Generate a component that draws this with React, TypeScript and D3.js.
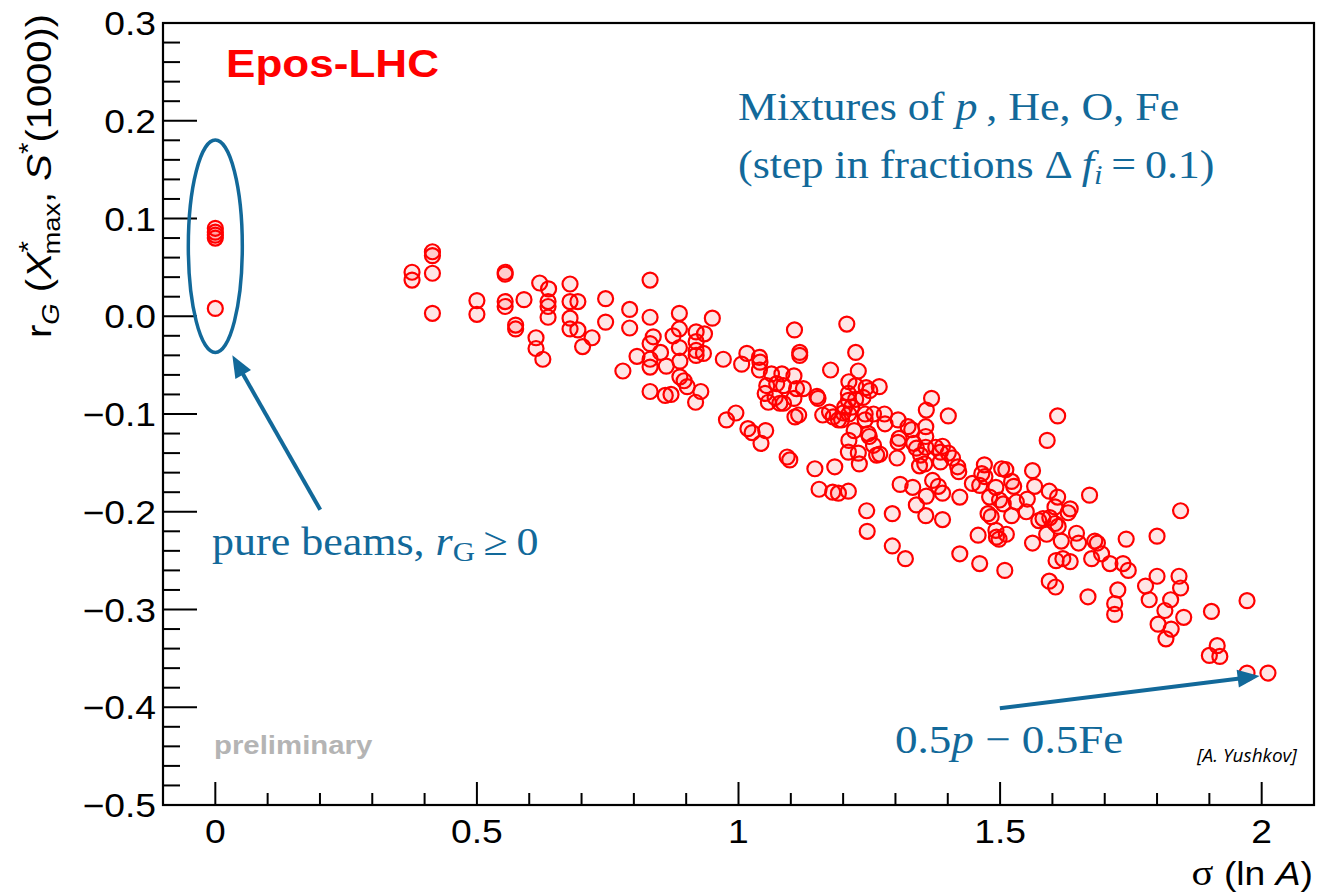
import React from 'react';
import * as d3 from 'd3';

// pure beams (p, He, O, Fe) sit at sigma(lnA) = 0
const pureBeams: [number, number][] = [
  [0, 0.090], [0, 0.086], [0, 0.083], [0, 0.080], [0, 0.008],
];

// mixtures of p, He, O, Fe: [sigma(lnA), r_G]
const mixtures: [number, number][] = [
  [0.415, 0.066], [0.415, 0.062], [0.376, 0.045], [0.376, 0.037], [0.415, 0.044], [0.415, 0.003],
  [0.554, 0.045], [0.554, 0.043], [0.500, 0.016], [0.500, 0.002], [0.554, 0.015], [0.554, 0.010],
  [0.590, 0.017], [0.574, -0.009], [0.574, -0.013], [0.620, 0.034], [0.637, 0.028], [0.636, 0.015],
  [0.636, 0.010], [0.636, -0.001], [0.613, -0.022], [0.613, -0.033], [0.626, -0.044], [0.678, 0.033],
  [0.678, 0.015], [0.693, 0.015], [0.678, -0.002], [0.678, -0.013], [0.693, -0.014], [0.720, -0.022],
  [0.702, -0.031],
  [0.831, 0.037], [0.746, 0.018], [0.792, 0.007], [0.746, -0.006], [0.792, -0.012], [0.831, -0.001],
  [0.887, 0.003], [0.950, -0.002], [0.837, -0.021], [0.831, -0.028], [0.875, -0.020], [0.887, -0.013],
  [0.919, -0.016], [0.935, -0.018], [0.919, -0.026], [0.887, -0.032], [0.851, -0.037], [0.806, -0.041],
  [0.919, -0.035], [0.933, -0.038], [0.919, -0.040], [0.831, -0.044], [0.888, -0.046], [0.831, -0.052],
  [0.862, -0.051], [0.779, -0.056], [0.971, -0.044], [1.016, -0.038], [1.006, -0.049], [1.040, -0.042],
  [1.041, -0.047], [1.040, -0.055], [0.888, -0.062], [0.896, -0.066], [0.902, -0.072], [0.831, -0.077],
  [0.860, -0.081], [0.871, -0.080], [0.928, -0.077], [0.918, -0.088], [0.995, -0.099], [0.977, -0.106],
  [1.107, -0.014],
  [1.063, -0.059], [1.054, -0.071], [1.073, -0.069], [1.051, -0.079], [1.070, -0.083], [1.057, -0.088],
  [1.079, -0.089],
  [1.207, -0.008], [1.117, -0.037], [1.117, -0.040], [1.224, -0.037], [1.176, -0.055], [1.229, -0.056],
  [1.083, -0.059], [1.106, -0.061], [1.086, -0.071], [1.111, -0.074], [1.124, -0.074], [1.106, -0.084],
  [1.086, -0.089], [1.108, -0.103], [1.115, -0.101], [1.150, -0.082], [1.152, -0.084], [1.211, -0.067],
  [1.224, -0.071], [1.244, -0.073], [1.251, -0.076], [1.269, -0.072], [1.210, -0.079], [1.210, -0.086],
  [1.224, -0.085], [1.238, -0.083], [1.203, -0.093], [1.216, -0.093], [1.200, -0.099], [1.211, -0.100],
  [1.174, -0.098], [1.161, -0.101], [1.181, -0.103], [1.191, -0.106], [1.197, -0.106], [1.242, -0.100],
  [1.258, -0.100], [1.279, -0.100], [1.280, -0.110], [1.242, -0.106], [1.221, -0.117], [1.211, -0.127],
  [1.248, -0.120], [1.250, -0.123], [1.258, -0.132], [1.210, -0.139], [1.229, -0.140], [1.264, -0.142],
  [1.270, -0.141], [1.231, -0.151], [1.305, -0.106], [1.324, -0.113], [1.331, -0.116], [1.307, -0.125],
  [1.305, -0.129], [1.335, -0.130], [1.340, -0.135], [1.303, -0.145], [1.348, -0.142], [1.356, -0.151],
  [1.369, -0.084], [1.359, -0.096], [1.401, -0.102], [1.358, -0.113], [1.358, -0.123], [1.358, -0.134],
  [1.377, -0.134], [1.390, -0.133], [1.386, -0.139], [1.401, -0.140], [1.409, -0.145], [1.346, -0.153],
  [1.093, -0.144], [1.098, -0.147], [1.146, -0.156], [1.184, -0.154],
  [1.018, -0.115], [1.026, -0.119], [1.043, -0.130], [1.052, -0.117],
  [1.154, -0.177], [1.180, -0.180], [1.191, -0.181], [1.210, -0.179], [1.245, -0.199], [1.246, -0.220],
  [1.294, -0.202], [1.294, -0.235], [1.319, -0.248], [1.309, -0.172], [1.333, -0.175], [1.340, -0.193],
  [1.358, -0.204], [1.390, -0.208], [1.359, -0.184], [1.371, -0.168], [1.382, -0.174], [1.390, -0.181],
  [1.386, -0.149], [1.423, -0.185], [1.423, -0.243],
  [1.610, -0.102], [1.590, -0.127], [1.671, -0.183], [1.419, -0.154], [1.421, -0.159], [1.470, -0.152],
  [1.465, -0.161], [1.471, -0.164], [1.447, -0.171], [1.461, -0.173], [1.503, -0.156], [1.511, -0.157],
  [1.522, -0.169], [1.526, -0.174], [1.492, -0.175], [1.562, -0.158], [1.566, -0.174], [1.480, -0.185],
  [1.499, -0.188], [1.506, -0.192], [1.531, -0.190], [1.552, -0.187], [1.550, -0.200], [1.522, -0.204],
  [1.477, -0.202], [1.483, -0.205], [1.594, -0.179], [1.610, -0.185], [1.605, -0.195], [1.634, -0.197],
  [1.630, -0.201], [1.574, -0.209], [1.582, -0.207], [1.595, -0.206], [1.605, -0.212], [1.611, -0.215],
  [1.589, -0.223], [1.458, -0.224], [1.492, -0.219], [1.493, -0.226], [1.498, -0.228], [1.512, -0.223],
  [1.562, -0.232], [1.617, -0.230], [1.646, -0.222], [1.650, -0.232], [1.681, -0.230], [1.686, -0.232],
  [1.694, -0.243], [1.675, -0.248], [1.741, -0.228], [1.461, -0.253], [1.509, -0.260], [1.607, -0.250],
  [1.620, -0.248], [1.634, -0.251], [1.710, -0.253], [1.735, -0.253], [1.668, -0.287],
  [1.594, -0.271], [1.606, -0.277],
  [1.845, -0.199], [1.800, -0.225], [1.745, -0.260], [1.800, -0.266], [1.842, -0.266],
  [1.725, -0.280], [1.778, -0.276], [1.845, -0.278], [1.719, -0.294], [1.719, -0.305], [1.785, -0.290],
  [1.826, -0.290], [1.815, -0.301], [1.851, -0.308], [1.802, -0.315], [1.827, -0.320], [1.817, -0.330],
  [1.904, -0.302], [1.972, -0.291], [1.915, -0.337], [1.900, -0.347], [1.920, -0.348], [1.972, -0.365],
  [2.012, -0.365],
];

const xTickValues = [0, 0.5, 1, 1.5, 2];
const xTickLabels = ['0', '0.5', '1', '1.5', '2'];
const yTickValues = [-0.5, -0.4, -0.3, -0.2, -0.1, 0, 0.1, 0.2, 0.3];
const yTickLabels = ['\u22120.5', '\u22120.4', '\u22120.3', '\u22120.2', '\u22120.1', '0.0', '0.1', '0.2', '0.3'];

const sans = 'Liberation Sans, Arial, Helvetica, sans-serif';
const serif = 'Liberation Serif, Times New Roman, serif';
const blue = '#12699a';
const SX = 1.13; // glyphs in the source are a bit wide
const thin = '\u2009';

function Arrow({ x1, y1, x2, y2 }: { x1: number; y1: number; x2: number; y2: number }) {
  const dx = x2 - x1, dy = y2 - y1;
  const len = Math.sqrt(dx * dx + dy * dy);
  const ux = dx / len, uy = dy / len;
  const hl = 22, hw = 9;
  const bx = x2 - ux * hl, by = y2 - uy * hl;
  const head = `M${x2},${y2}L${bx - uy * hw},${by + ux * hw}L${bx + uy * hw},${by - ux * hw}Z`;
  return (
    <g>
      <line x1={x1} y1={y1} x2={bx + ux * 2} y2={by + uy * 2} stroke={blue} strokeWidth={4} />
      <path d={head} fill={blue} />
    </g>
  );
}

export default function App() {
  const x = d3.scaleLinear().domain([-0.1, 2.1]).range([163, 1314]);
  const y = d3.scaleLinear().domain([-0.5, 0.3]).range([805, 23]);
  const [x0, x1] = x.range();
  const [y0, y1] = y.range();

  const xMinor = d3.range(-0.1, 2.1001, 0.1).filter(v => Math.abs(v / 0.5 - Math.round(v / 0.5)) > 1e-6);
  const yMinor = d3.range(-0.5, 0.3001, 0.02).filter(v => Math.abs(v / 0.1 - Math.round(v / 0.1)) > 1e-6);

  const points = [...pureBeams, ...mixtures];

  return (
    <svg width={1318} height={892} style={{ position: 'absolute', left: 0, top: 0, background: '#fff' }}>
      <rect width={1318} height={892} fill="#fff" />

      {/* ticks */}
      <g stroke="#000" strokeWidth={2}>
        {yTickValues.map(v => <line key={'ym' + v} x1={x0} x2={x0 + 34} y1={y(v)} y2={y(v)} />)}
        {yMinor.map(v => <line key={'yn' + v} x1={x0} x2={x0 + 17} y1={y(v)} y2={y(v)} />)}
        {xTickValues.map(v => <line key={'xm' + v} x1={x(v)} x2={x(v)} y1={y0} y2={y0 - 23} />)}
        {xMinor.map(v => <line key={'xn' + v} x1={x(v)} x2={x(v)} y1={y0} y2={y0 - 12} />)}
      </g>

      {/* points */}
      <g>
        {points.map((d, i) => (
          <circle key={i} cx={x(d[0])} cy={y(d[1])} r={7.5}
            fill="#ff0000" fillOpacity={0.1} stroke="#ff0000" strokeWidth={2.2} />
        ))}
      </g>

      {/* frame */}
      <rect x={x0} y={y1} width={x1 - x0} height={y0 - y1} fill="none" stroke="#000" strokeWidth={2.2} />

      {/* tick labels */}
      <g fontFamily={sans} fontSize={33} fill="#000">
        {yTickValues.map((v, i) => (
          <text key={'yl' + v} transform={`translate(156,${y(v) + 12}) scale(${SX},1)`} textAnchor="end">{yTickLabels[i]}</text>
        ))}
        {xTickValues.map((v, i) => (
          <text key={'xl' + v} transform={`translate(${x(v)},${843}) scale(${SX},1)`} textAnchor="middle">{xTickLabels[i]}</text>
        ))}
      </g>

      {/* axis titles */}
      <text transform={`translate(1313,885) scale(${SX},1)`} textAnchor="end" fontFamily={sans} fontSize={33}>
        <tspan fontFamily={serif} fontSize={36}>σ</tspan>
        <tspan>{' (ln '}</tspan>
        <tspan fontStyle="italic">A</tspan>
        <tspan>)</tspan>
      </text>
      <text transform="translate(51,14) rotate(-90) scale(1.14,1)" textAnchor="end" fontFamily={sans} fontSize={35}>
        <tspan>r</tspan>
        <tspan fontSize={24} fontStyle="italic" dy={8}>G</tspan>
        <tspan dy={-8}>{' ('}</tspan>
        <tspan fontStyle="italic">X</tspan>
        <tspan fontSize={26} dy={-14}>*</tspan>
        <tspan fontSize={24} dx={-12} dy={23}>max</tspan>
        <tspan dy={-9}>{', '}</tspan>
        <tspan fontStyle="italic">S</tspan>
        <tspan fontSize={26} dy={-14}>*</tspan>
        <tspan dy={14}>(1000))</tspan>
      </text>

      {/* labels */}
      <text transform={`translate(226,77) scale(${SX},1)`} fontFamily={sans} fontSize={39} fontWeight="bold" fill="#ff0000">Epos-LHC</text>
      <text transform={`translate(214,754) scale(${SX},1)`} fontFamily={sans} fontSize={26} fontWeight="bold" fill="#b4b4b4">preliminary</text>

      <g fontFamily={serif} fill={blue}>
        <text transform="translate(738,120) scale(1.1,1)" fontSize={40}>
          <tspan>{'Mixtures of '}</tspan>
          <tspan fontStyle="italic">p</tspan>
          <tspan>{thin + ', He, O, Fe'}</tspan>
        </text>
        <text transform="translate(738,178) scale(1.1,1)" fontSize={40}>
          <tspan>{'(step in fractions Δ' + thin}</tspan>
          <tspan fontStyle="italic">f</tspan>
          <tspan fontStyle="italic" fontSize={28} dy={6}>i</tspan>
          <tspan dy={-6}>{thin + '=' + thin + '0.1)'}</tspan>
        </text>
        <text transform="translate(212,555) scale(1.1,1)" fontSize={40}>
          <tspan>{'pure beams, '}</tspan>
          <tspan fontStyle="italic">r</tspan>
          <tspan fontSize={28} dy={6}>G</tspan>
          <tspan dy={-6}>{thin + '≥' + thin + '0'}</tspan>
        </text>
        <text transform="translate(895,753) scale(1.1,1)" fontSize={41}>
          <tspan>0.5</tspan>
          <tspan fontStyle="italic">p</tspan>
          <tspan>{' − 0.5Fe'}</tspan>
        </text>
      </g>
      <text x={1197} y={762} fontFamily="Open Sans, sans-serif" fontStyle="italic" fontSize={19} fill="#000">[A. Yushkov]</text>

      {/* annotations */}
      <ellipse cx={x(0)} cy={y(0.0716)} rx={x(0.0516) - x(0)} ry={y(-0.037) - y(0.0716)}
        fill="none" stroke={blue} strokeWidth={3.5} />
      <Arrow x1={x(0.2006)} y1={y(-0.198)} x2={x(0.0325)} y2={y(-0.040)} />
      <Arrow x1={x(1.4995)} y1={y(-0.401)} x2={x(1.996)} y2={y(-0.368)} />
    </svg>
  );
}
